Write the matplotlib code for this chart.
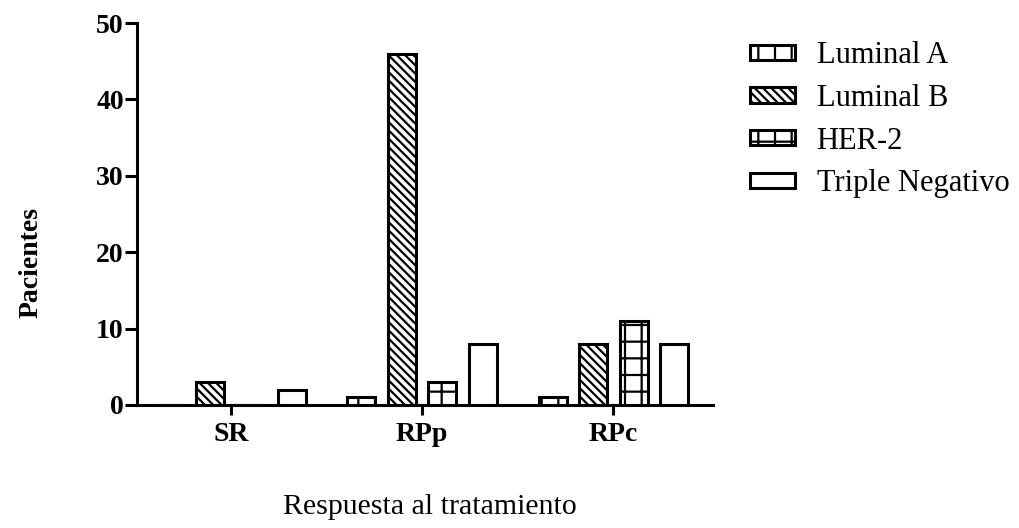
import matplotlib.pyplot as plt
import numpy as np

# data
categories = ['SR', 'RPp', 'RPc']
luminal_a = [0, 1, 1]
luminal_b = [3, 46, 8]
her2 = [0, 3, 11]
triple_neg = [2, 8, 8]
series_names = ['Luminal A', 'Luminal B', 'HER-2', 'Triple Negativo']
hatches = ['|', '\\\\\\\\', '+', '']

plt.rcParams['font.family'] = 'Liberation Serif'
plt.rcParams['hatch.linewidth'] = 1.6

fig = plt.figure(figsize=(10.2, 5.28), dpi=100)
ax = fig.add_axes([0.1343, 0.233, 0.5647, 0.7234])

x = np.arange(len(categories))
step = 0.212
width = 0.146
series = [luminal_a, luminal_b, her2, triple_neg]
handles = []
for i, (vals, name, h) in enumerate(zip(series, series_names, hatches)):
    b = ax.bar(x + (i - 1.5) * step, vals, width, facecolor='white',
               edgecolor='black', linewidth=2.2, hatch=h, label=name, zorder=3)
    handles.append(b)

ax.set_xlim(-0.49, 2.52)
ax.set_ylim(0, 50)
ax.set_yticks([0, 10, 20, 30, 40, 50])
ax.set_xticks(x)
ax.set_xticklabels(categories, fontsize=20, fontweight='bold')
for lbl in ax.get_yticklabels():
    lbl.set_fontsize(20)
    lbl.set_fontweight('bold')

for s in ['top', 'right']:
    ax.spines[s].set_visible(False)
for s in ['left', 'bottom']:
    ax.spines[s].set_linewidth(2.2)
ax.tick_params(axis='y', length=8.5, width=2.2, pad=1)
ax.tick_params(axis='x', length=7, width=2.2, pad=5)

ax.set_ylabel('Pacientes', fontsize=20, fontweight='bold')
ax.yaxis.set_label_coords(-0.162, 0.374)
fig.text(0.4216, 0.04, 'Respuesta al tratamiento', fontsize=21.5, ha='center', va='center')

leg = fig.legend(handles=handles, loc='upper left', bbox_to_anchor=(0.735, 0.922),
                 frameon=False, fontsize=22, handlelength=1.47, handleheight=0.4,
                 labelspacing=0.45, handletextpad=0.72, borderpad=0, borderaxespad=0)

plt.savefig('out.png', dpi=100)
